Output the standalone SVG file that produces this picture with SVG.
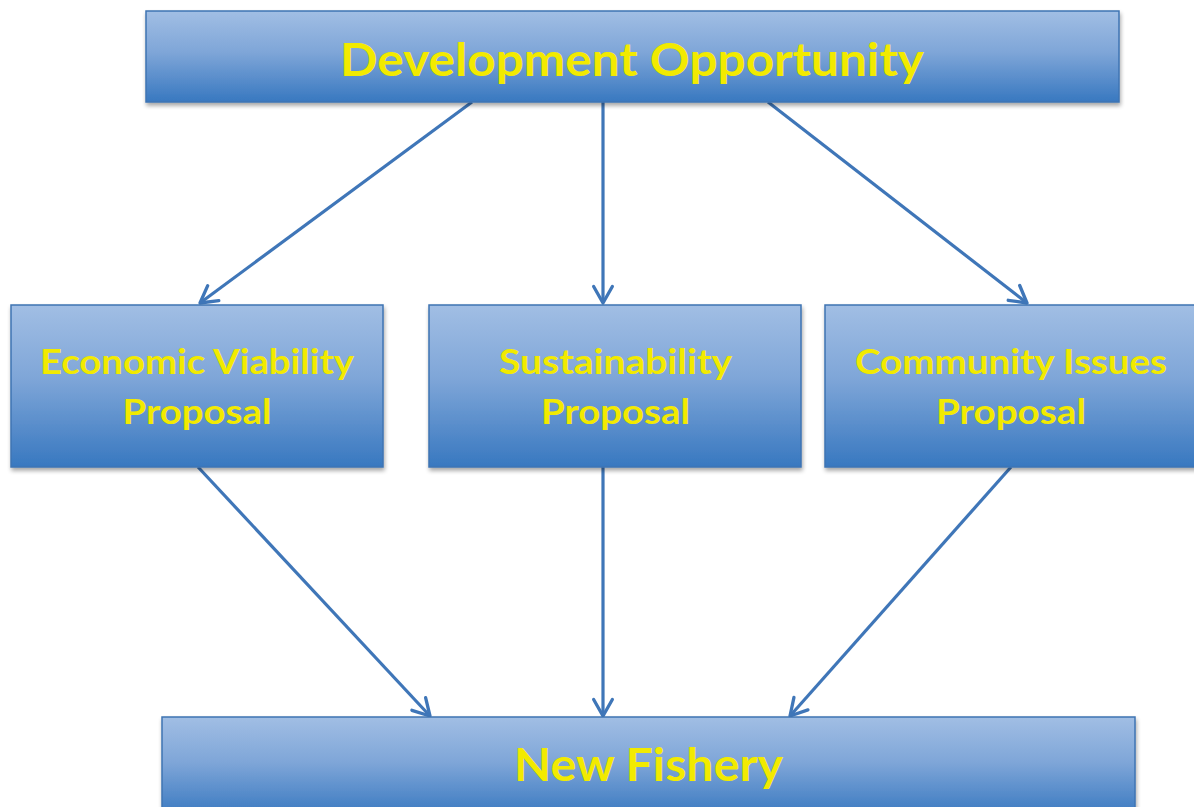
<svg xmlns="http://www.w3.org/2000/svg" width="1194" height="807" viewBox="0 0 1194 807">
<defs>
<linearGradient id="g" x1="0" y1="0" x2="0" y2="1">
<stop offset="0" stop-color="#a1bee4"/>
<stop offset="0.45" stop-color="#7fa6d8"/>
<stop offset="1" stop-color="#3878c0"/>
</linearGradient>
<filter id="sh" x="-5%" y="-10%" width="110%" height="125%">
<feGaussianBlur in="SourceAlpha" stdDeviation="2"/>
<feOffset dx="1" dy="3" result="b"/>
<feComponentTransfer><feFuncA type="linear" slope="0.35"/></feComponentTransfer>
<feMerge><feMergeNode/><feMergeNode in="SourceGraphic"/></feMerge>
</filter>
<marker id="arr" viewBox="0 0 20 20" refX="18" refY="10" markerWidth="22" markerHeight="22" markerUnits="userSpaceOnUse" orient="auto" overflow="visible">
<path d="M3,1.5 L18,10 L3,18.5" fill="none" stroke="#3f76b8" stroke-width="3" stroke-linecap="round" stroke-linejoin="round"/>
</marker>
</defs>
<style>
.box{fill:url(#g);stroke:#3f74b3;stroke-width:1.5;filter:url(#sh)}
.t{font-family:Lato,"Open Sans","Liberation Sans",sans-serif;font-weight:bold;fill:#f2ea00;text-anchor:middle}
.big{font-size:45px}
.mid{font-size:35px}
.c{stroke:#3f76b8;stroke-width:3.2;fill:none;marker-end:url(#arr)}
</style>
<rect width="1194" height="807" fill="#ffffff"/>
<g id="connectors">
<line class="c" x1="472" y1="102" x2="200" y2="303"/>
<line class="c" x1="603" y1="102" x2="603" y2="303"/>
<line class="c" x1="768" y1="102" x2="1027" y2="303"/>
<line class="c" x1="198" y1="467" x2="430" y2="716"/>
<line class="c" x1="603" y1="467" x2="603" y2="716"/>
<line class="c" x1="1011" y1="467" x2="790" y2="716"/>
</g>
<g id="development-opportunity">
<rect class="box" x="146" y="11" width="973" height="91"/>
<text class="t big" x="632" y="76" textLength="584" lengthAdjust="spacingAndGlyphs">Development Opportunity</text>
</g>
<g id="economic-viability">
<rect class="box" x="11" y="305" width="372" height="162"/>
<text class="t mid" x="197" y="374" textLength="314" lengthAdjust="spacingAndGlyphs">Economic Viability</text>
<text class="t mid" x="197" y="424" textLength="149" lengthAdjust="spacingAndGlyphs">Proposal</text>
</g>
<g id="sustainability">
<rect class="box" x="429" y="305" width="372" height="162"/>
<text class="t mid" x="615.5" y="374" textLength="233" lengthAdjust="spacingAndGlyphs">Sustainability</text>
<text class="t mid" x="615.5" y="424" textLength="149" lengthAdjust="spacingAndGlyphs">Proposal</text>
</g>
<g id="community-issues">
<rect class="box" x="825" y="305" width="372" height="162"/>
<text class="t mid" x="1011" y="374" textLength="312" lengthAdjust="spacingAndGlyphs">Community Issues</text>
<text class="t mid" x="1011" y="424" textLength="150" lengthAdjust="spacingAndGlyphs">Proposal</text>
</g>
<g id="new-fishery">
<rect class="box" x="162" y="717" width="973" height="100"/>
<text class="t big" x="648.5" y="781" textLength="269" lengthAdjust="spacingAndGlyphs">New Fishery</text>
</g>
</svg>
